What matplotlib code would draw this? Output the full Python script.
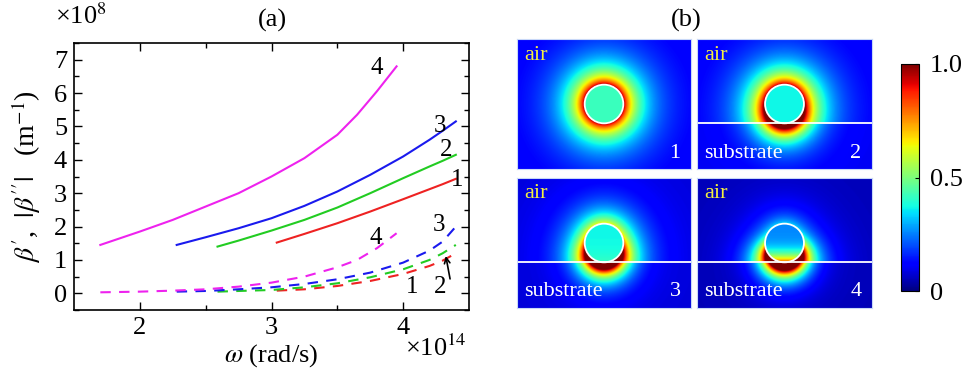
import numpy as np
import matplotlib
matplotlib.use("Agg")
import matplotlib.pyplot as plt
from matplotlib.patches import Circle

plt.rcParams['font.family'] = ['Liberation Serif', 'DejaVu Serif']
plt.rcParams['mathtext.fontset'] = 'stix'

# ---- panel (a) data: omega (x1e14 rad/s) vs beta', |beta''| (x1e8 1/m) ----
w1 = [3.04, 3.25, 3.5, 3.75, 4.0, 4.2, 4.3, 4.4]
b1_re = [1.52, 1.78, 2.10, 2.45, 2.82, 3.12, 3.27, 3.43]
b1_im = [0.08, 0.12, 0.22, 0.37, 0.58, 0.82, 0.98, 1.20]

w2 = [2.59, 2.75, 3.0, 3.25, 3.5, 3.75, 4.0, 4.2, 4.3, 4.4]
b2_re = [1.40, 1.58, 1.88, 2.20, 2.57, 3.00, 3.45, 3.80, 3.97, 4.15]
b2_im = [0.05, 0.07, 0.10, 0.18, 0.30, 0.48, 0.72, 1.00, 1.20, 1.45]

w3 = [2.28, 2.5, 2.75, 3.0, 3.25, 3.5, 3.75, 4.0, 4.2, 4.3, 4.4]
b3_re = [1.45, 1.68, 1.95, 2.25, 2.62, 3.05, 3.55, 4.10, 4.60, 4.87, 5.15]
b3_im = [0.05, 0.07, 0.12, 0.18, 0.28, 0.42, 0.62, 0.92, 1.28, 1.55, 2.00]

w4 = [1.7, 1.85, 2.0, 2.25, 2.5, 2.75, 3.0, 3.25, 3.5, 3.65, 3.8, 3.95]
b4_re = [1.45, 1.65, 1.85, 2.20, 2.60, 3.00, 3.50, 4.05, 4.75, 5.35, 6.05, 6.80]
b4_im = [0.03, 0.04, 0.05, 0.08, 0.12, 0.20, 0.32, 0.50, 0.78, 1.00, 1.35, 1.80]

curve_colors = ['#ee2222', '#22cc22', '#1a1aee', '#ee22ee']

# ---- panel (b) field-map parameters, one entry per mode 1..4 ----
panel_names = ['1', '2', '3', '4']
has_substrate = [False, True, True, True]
ring_top = [0.9, 0.9, 0.6, 0.3]
ring_bot = [0.9, 1.5, 2.0, 2.5]
ring_decay = [0.9, 0.85, 0.75, 0.7]
sub_decay = [0.9, 0.6, 0.5, 0.45]
background = [0.1, 0.1, 0.08, 0.05]
core_top = [0.42, 0.37, 0.37, 0.26]
core_bot = [0.42, 0.37, 0.42, 0.85]


def field_map(i, X, Y):
    r = np.hypot(X, Y)
    d = np.clip(r - 1.0, 0, None)
    s = (1 - Y / np.maximum(r, 1e-9)) / 2
    amp = ring_top[i] + (ring_bot[i] - ring_top[i]) * s ** 3
    f = background[i] + amp * np.exp(-(d / ring_decay[i]) ** 0.9)
    if has_substrate[i]:
        f_sub = background[i] + amp * np.exp(-(d / sub_decay[i]) ** 0.9)
        f = np.where(Y < -1.0, f_sub, f)
    core = core_top[i] + (core_bot[i] - core_top[i]) * ((1 - Y) / 2) ** 4
    f = np.where(r < 1.0, core, f)
    return np.clip(f, 0, 1)


fig = plt.figure(figsize=(9.63, 3.71), dpi=100)
W, H = 963, 371


def px_axes(l, t, r, b):
    return fig.add_axes([l / W, 1 - b / H, (r - l) / W, (b - t) / H])


ax = px_axes(74, 43, 469, 310)
for w, re_, im_, c in zip([w1, w2, w3, w4], [b1_re, b2_re, b3_re, b4_re],
                          [b1_im, b2_im, b3_im, b4_im], curve_colors):
    ax.plot(w, re_, color=c, lw=1.5)
    ax.plot(w, im_, color=c, lw=1.5, dashes=(5, 4))

ax.set_xlim(1.5, 4.5)
ax.set_ylim(-0.5, 7.5)
ax.set_xticks([2, 3, 4])
ax.set_xticks([2.5, 3.5], minor=True)
ax.set_yticks(range(8))
ax.set_yticks(np.arange(-0.5, 7.6, 1.0), minor=True)
ax.tick_params(which='both', direction='in', top=True, right=True,
               labelsize=19, width=1.0)
ax.tick_params(which='major', length=6, pad=5)
ax.tick_params(which='minor', length=3.5)
for sp in ax.spines.values():
    sp.set_linewidth(1.2)

ax.set_xlabel(r'$\omega$ (rad/s)', fontsize=19)
ax.xaxis.set_label_coords(0.5, -0.12)
ax.set_ylabel(r"$\beta'$,  $|\beta''|$   (m$^{-1}$)", fontsize=20)
ax.yaxis.set_label_coords(-0.078, 0.5)
fig.text(272 / W, 1 - 20 / H, '(a)', fontsize=19, ha='center', va='center')
fig.text(55 / W, 1 - 16 / H, r'×10$^{8}$', fontsize=19, va='center')
fig.text(405 / W, 1 - 348 / H, r'×10$^{14}$', fontsize=19, va='center')

lab = dict(fontsize=18, ha='center', va='center')
ax.text(3.80, 6.75, '4', **lab)
ax.text(4.28, 5.0, '3', **lab)
ax.text(4.33, 4.3, '2', **lab)
ax.text(4.41, 3.4, '1', **lab)
ax.text(3.79, 1.65, '4', **lab)
ax.text(4.27, 2.05, '3', **lab)
ax.text(4.07, 0.2, '1', **lab)
ax.text(4.28, 0.2, '2', **lab)
ax.annotate('', xy=(4.32, 1.2), xytext=(4.36, 0.35),
            arrowprops=dict(arrowstyle='->', lw=1.2, color='black'))

# ---- panel (b) ----
cols = [(517, 691), (697, 872)]
rows = [(39, 169), (178, 308)]
xs = np.linspace(-4.5, 4.5, 360)
ys = np.linspace(-3.36, 3.36, 270)
X, Y = np.meshgrid(xs, ys)
im = None
for i in range(4):
    (l, r), (t, b) = cols[i % 2], rows[i // 2]
    pax = px_axes(l, t, r, b)
    im = pax.imshow(field_map(i, X, Y), cmap='jet', vmin=0, vmax=1,
                    origin='lower', extent=[xs[0], xs[-1], ys[0], ys[-1]],
                    aspect='auto', interpolation='bilinear')
    pax.add_patch(Circle((0, 0), 1.0, fill=False, ec='white', lw=1.3))
    if has_substrate[i]:
        pax.axhline(-1.0, color='white', lw=1.3)
        pax.text(0.04, 0.05, 'substrate', color='white', fontsize=16,
                 transform=pax.transAxes, va='bottom')
    pax.text(0.04, 0.95, 'air', color='#f4f040', fontsize=16,
             transform=pax.transAxes, va='top')
    pax.text(0.94, 0.05, panel_names[i], color='white', fontsize=16,
             transform=pax.transAxes, ha='right', va='bottom')
    pax.set_xticks([])
    pax.set_yticks([])
    for sp in pax.spines.values():
        sp.set_color('#c8d8f8')
        sp.set_linewidth(0.8)

fig.text(686 / W, 1 - 20 / H, '(b)', fontsize=19, ha='center', va='center')

cax = px_axes(901, 64, 919, 291)
cb = fig.colorbar(im, cax=cax, ticks=[0, 0.5, 1.0])
cb.ax.set_yticklabels(['0', '0.5', '1.0'])
cb.ax.tick_params(labelsize=19, direction='in', length=3, pad=8)
cb.outline.set_linewidth(0.8)

fig.savefig('out.png', dpi=100)
